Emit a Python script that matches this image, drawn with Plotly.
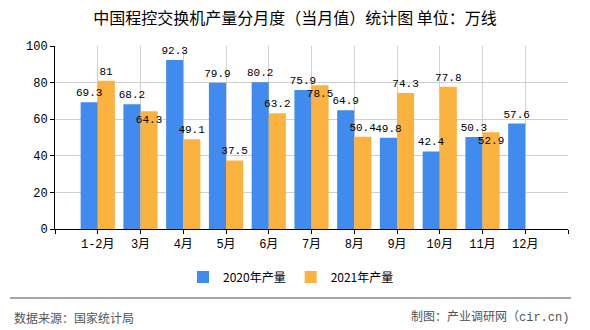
import plotly.graph_objects as go

categories = ["1-2月", "3月", "4月", "5月", "6月", "7月", "8月", "9月", "10月", "11月", "12月"]
values_2020 = [69.3, 68.2, 92.3, 79.9, 80.2, 75.9, 64.9, 49.8, 42.4, 50.3, 57.6]
values_2021 = [81, 64.3, 49.1, 37.5, 63.2, 78.5, 50.4, 74.3, 77.8, 52.9, None]
labels_2020 = ["69.3", "68.2", "92.3", "79.9", "80.2", "75.9", "64.9", "49.8", "42.4", "50.3", "57.6"]
labels_2021 = ["81", "64.3", "49.1", "37.5", "63.2", "78.5", "50.4", "74.3", "77.8", "52.9", ""]
name_2020 = "2020年产量"
name_2021 = "2021年产量"
title_text = "中国程控交换机产量分月度（当月值）统计图 单位：万线"
source_text = "数据来源：国家统计局"
credit_text = "制图：产业调研网（cir.cn)"
y_ticks = [0, 20, 40, 60, 80, 100]

# label placement style (outside above bar, or nudged into bar top to avoid overlap)
pos_2020 = ["outside"] * 11
pos_2021 = ["outside", "inside", "outside", "outside", "outside", "inside",
            "outside", "outside", "outside", "inside", "outside"]

BLUE = "#428bee"
ORANGE = "#fcb23f"
MONO = "Liberation Mono, Noto Sans CJK SC, monospace"
CJK = "Noto Sans CJK SC, sans-serif"

idx = list(range(len(categories)))

fig = go.Figure()
# visible bars
fig.add_trace(go.Bar(
    x=idx, y=values_2020, name=name_2020, offsetgroup="a",
    marker=dict(color=BLUE, line=dict(width=0)),
))
fig.add_trace(go.Bar(
    x=idx, y=values_2021, name=name_2021, offsetgroup="b",
    marker=dict(color=ORANGE, line=dict(width=0)),
))
# transparent overlay bars carrying the value labels, drawn on top of all bars
for vals, labs, pos, grp in [(values_2020, labels_2020, pos_2020, "a"),
                             (values_2021, labels_2021, pos_2021, "b")]:
    fig.add_trace(go.Bar(
        x=idx, y=vals, offsetgroup=grp, showlegend=False, hoverinfo="skip",
        marker=dict(color="rgba(0,0,0,0)", line=dict(width=0)),
        text=labs, textposition=pos, textangle=0, constraintext="none",
        insidetextanchor="end", cliponaxis=False,
        textfont=dict(family=MONO, size=11, color="#000"),
    ))

L, R, T, B = 55, 22, 46, 101
W, H = 590, 330
pw, ph = W - L - R, H - T - B

def px_x(x):
    return (x - L) / pw

def px_y(y):
    return (H - B - y) / ph

fig.update_layout(
    width=W, height=H, margin=dict(l=L, r=R, t=T, b=B),
    paper_bgcolor="white", plot_bgcolor="white",
    barmode="group", bargap=0.2, bargroupgap=0,
    title=dict(text=title_text, x=0.5, xanchor="center", y=1 - 18 / H, yanchor="middle",
               font=dict(family=CJK, size=16, color="#000")),
    showlegend=True,
    legend=dict(orientation="h", x=px_x(291), xanchor="center", y=px_y(277), yanchor="middle",
                font=dict(family=CJK, size=12, color="#000"), itemwidth=30,
                bgcolor="rgba(0,0,0,0)"),
    font=dict(family=MONO, size=12, color="#000"),
)

fig.update_xaxes(
    range=[-1, len(categories)], tickmode="array",
    tickvals=[-1] + idx + [len(categories)],
    ticktext=[""] + categories + [""],
    showgrid=True, gridcolor="#d0d0d0", gridwidth=1,
    showline=True, linecolor="#000", linewidth=1,
    ticks="outside", ticklen=4, tickcolor="#000",
    tickfont=dict(family=MONO, size=12, color="#000"),
    zeroline=False, fixedrange=True,
)
fig.update_yaxes(
    range=[0, 100], tickmode="array", tickvals=y_ticks,
    showgrid=True, gridcolor="#d0d0d0", gridwidth=1,
    showline=True, linecolor="#000", linewidth=1,
    ticks="outside", ticklen=4, tickcolor="#000",
    tickfont=dict(family=MONO, size=12, color="#000"),
    zeroline=False, fixedrange=True,
)

fig.add_shape(type="line", xref="paper", yref="paper",
              x0=px_x(10), x1=px_x(571), y0=px_y(298), y1=px_y(298),
              line=dict(color="#888888", width=1.5))
fig.add_annotation(text=source_text, xref="paper", yref="paper",
                   x=px_x(12), xanchor="left", y=px_y(317), yanchor="middle",
                   showarrow=False, font=dict(family=CJK, size=12, color="#555"))
fig.add_annotation(text=credit_text, xref="paper", yref="paper",
                   x=px_x(571), xanchor="right", y=px_y(317), yanchor="middle",
                   showarrow=False, font=dict(family=MONO, size=12, color="#555"))

fig.write_html("out.html")
